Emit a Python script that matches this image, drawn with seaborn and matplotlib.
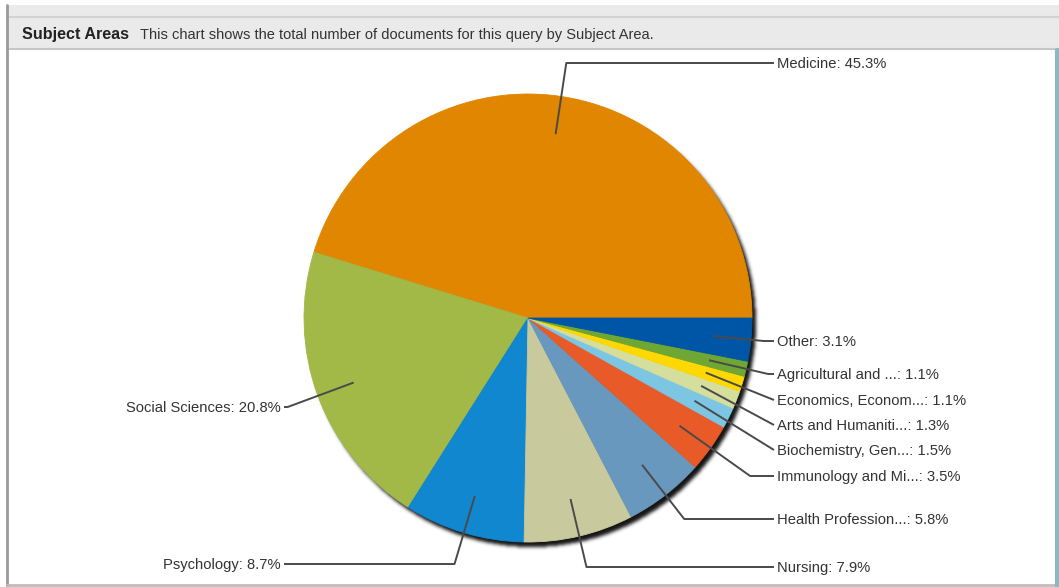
import numpy as np
import matplotlib
matplotlib.use("Agg")
import matplotlib.pyplot as plt
from matplotlib.patches import Rectangle
import seaborn as sns

# Subject-area share of documents (%)
subjects = [
    "Medicine", "Social Sciences", "Psychology", "Nursing",
    "Health Profession...", "Immunology and Mi...", "Biochemistry, Gen...",
    "Arts and Humaniti...", "Economics, Econom...", "Agricultural and ...",
    "Other",
]
shares = [45.3, 20.8, 8.7, 7.9, 5.8, 3.5, 1.5, 1.3, 1.1, 1.1, 3.1]
slice_colors = [
    "#E08600", "#A2B847", "#1087CE", "#C9C99E", "#6898BD", "#E85A28",
    "#7CC6E4", "#D6DE9E", "#FFD800", "#6EA733", "#0056A6",
]

title_bold = "Subject Areas"
title_note = "This chart shows the total number of documents for this query by Subject Area."

sns.set_theme(style="white")
plt.rcParams["font.family"] = ["Liberation Sans", "DejaVu Sans"]

W, H = 1059, 587
fig = plt.figure(figsize=(W / 100, H / 100), dpi=100)
ax = fig.add_axes([0, 0, 1, 1])


def py(y):
    """Convert a top-down pixel row into the axis' upward y coordinate."""
    return H - y


# ---- panel chrome -------------------------------------------------------
ax.add_patch(Rectangle((7, py(48)), W - 7, 43, facecolor="#EAEAEA", edgecolor="none", zorder=0))
ax.plot([7, W], [py(17), py(17)], color="#D2D2D2", lw=1.5, zorder=1)
ax.plot([7, W], [py(48.5), py(48.5)], color="#C6C6C6", lw=1.5, zorder=1)
ax.plot([7, 7], [py(5), py(587)], color="#9A9A9A", lw=2, zorder=1)
ax.plot([7, W - 3], [py(585), py(585)], color="#BDBDBD", lw=2, zorder=1)
ax.plot([W - 2, W - 2], [py(50), py(587)], color="#8DB8C0", lw=3, zorder=1)

ax.text(22, py(34.5), title_bold, fontsize=11.6, fontweight="bold", color="#222222",
        va="center", ha="left")
ax.text(140, py(34.5), title_note, fontsize=10.5, color="#333333", va="center", ha="left")

# ---- pie ------------------------------------------------------------------
cx, cy, r = 528, 318, 224

# soft drop shadow, offset toward the lower right
yy, xx = np.mgrid[0:H, 0:W] + 0.5
disk = (((xx - (cx + 4)) ** 2 + (yy - (cy + 5)) ** 2) <= r ** 2).astype(float)
k = np.exp(-0.5 * (np.arange(-5, 6) / 1.8) ** 2)
k /= k.sum()
blur = np.zeros_like(disk)
for i, w in enumerate(k):
    blur += w * np.roll(disk, i - 5, axis=0)
disk = blur
blur = np.zeros_like(disk)
for i, w in enumerate(k):
    blur += w * np.roll(disk, i - 5, axis=1)
shadow = np.zeros((H, W, 4))
shadow[..., 3] = blur * 0.92
ax.imshow(shadow, extent=(0, W, 0, H), origin="upper", zorder=2, interpolation="bilinear")

wedges, _ = ax.pie(
    shares, colors=slice_colors, startangle=0, counterclock=True,
    center=(cx, py(cy)), radius=r,
    wedgeprops=dict(linewidth=0.6, antialiased=True),
)
for wdg, c in zip(wedges, slice_colors):
    wdg.set_edgecolor(c)
    wdg.set_zorder(3)

# ---- leader lines and labels -----------------------------------------------
# label rows (top-down pixels) and which side each label sits on
label_rows = [63, 407, 564, 567, 519, 476, 450, 425, 400, 374, 341]
label_side = ["R", "L", "L", "R", "R", "R", "R", "R", "R", "R", "R"]
right_x, left_x = 777, 281
line_col = "#4A4A4A"

for wdg, name, val, row, side in zip(wedges, subjects, shares, label_rows, label_side):
    mid = np.deg2rad(0.5 * (wdg.theta1 + wdg.theta2))
    ux, uy = np.cos(mid), np.sin(mid)
    ax0, ay0 = cx + 0.83 * r * ux, py(cy) + 0.83 * r * uy
    ty = py(row)
    # elbow: where the slice's radial ray reaches the label row
    t = (ty - py(cy)) / uy if abs(uy) > 1e-6 else 1.15 * r
    ex = cx + t * ux
    if side == "R":
        end_x = right_x - 3
        ex = min(ex, end_x)
    else:
        end_x = left_x + 3
        ex = max(ex, end_x)
    ax.plot([ax0, ex, end_x], [ay0, ty, ty], color=line_col, lw=1.4,
            solid_capstyle="butt", zorder=4)
    ax.text(right_x if side == "R" else left_x, ty - 1, f"{name}: {val:.1f}%",
            ha="left" if side == "R" else "right", va="center",
            fontsize=10.6, color="#333333", zorder=5)

ax.set_xlim(0, W)
ax.set_ylim(0, H)
ax.set_aspect("auto")
ax.axis("off")

fig.savefig("out.png", dpi=100, facecolor="white")
